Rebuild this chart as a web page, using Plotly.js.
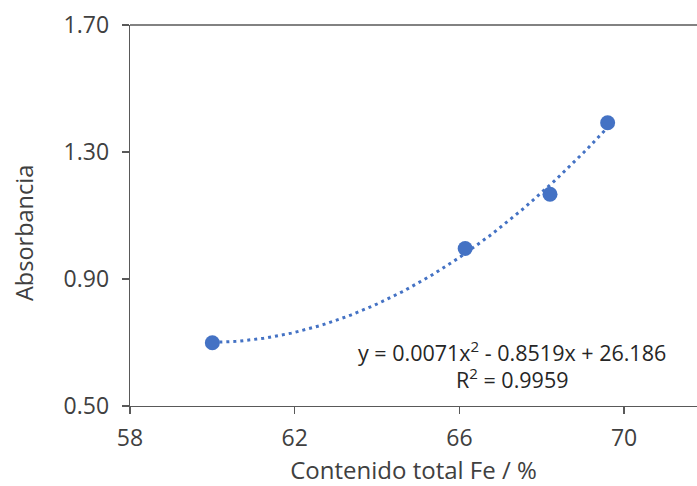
<!DOCTYPE html>
<html>
<head>
<meta charset="utf-8">
<script src="https://cdn.plot.ly/plotly-3.0.1.min.js"></script>
<style>html,body{margin:0;padding:0;background:#fff;}#chart{width:697px;height:486px;}</style>
</head>
<body>
<div id="chart"></div>
<script>
// Data
const feContent = [60.0, 66.14, 68.2, 69.6];
const absorbance = [0.699, 0.996, 1.167, 1.392];
const yTickVals = [0.50, 0.90, 1.30, 1.70];
const xTickVals = [58, 62, 66, 70];
const xTitle = 'Contenido total Fe / %';
const yTitle = 'Absorbancia';
const equationText = "y = 0.0071x<sup>2</sup> - 0.8519x + 26.186";
const r2Text = "R<sup>2</sup> = 0.9959";

// Quadratic least-squares trendline computed from the data (as Excel does)
function quadFit(xs, ys) {
  let n = xs.length, S = [0,0,0,0,0], T = [0,0,0];
  for (let i = 0; i < n; i++) {
    let p = 1;
    for (let k = 0; k < 5; k++) { S[k] += p; if (k < 3) T[k] += p * ys[i]; p *= xs[i]; }
  }
  const A = [[S[0],S[1],S[2],T[0]],[S[1],S[2],S[3],T[1]],[S[2],S[3],S[4],T[2]]];
  for (let c = 0; c < 3; c++) {
    for (let r = c + 1; r < 3; r++) {
      const f = A[r][c] / A[c][c];
      for (let k = c; k < 4; k++) A[r][k] -= f * A[c][k];
    }
  }
  const coef = [0,0,0];
  for (let r = 2; r >= 0; r--) {
    let s = A[r][3];
    for (let k = r + 1; k < 3; k++) s -= A[r][k] * coef[k];
    coef[r] = s / A[r][r];
  }
  return coef; // c0 + c1 x + c2 x^2
}
const cf = quadFit(feContent, absorbance);
const xMin = Math.min(...feContent), xMax = Math.max(...feContent);
const trendX = [], trendY = [];
for (let i = 0; i <= 100; i++) {
  const x = xMin + (xMax - xMin) * i / 100;
  trendX.push(x);
  trendY.push(cf[0] + cf[1] * x + cf[2] * x * x);
}

const blue = '#4472C4';
const txt = '#404040';
const fontFam = '"Open Sans", "Noto Sans", sans-serif';

const traces = [
  {x: trendX, y: trendY, mode: 'lines', type: 'scatter',
   line: {color: blue, width: 3, dash: '3px,4px'}, hoverinfo: 'skip', showlegend: false},
  {x: feContent, y: absorbance, mode: 'markers', type: 'scatter',
   marker: {color: blue, size: 15}, showlegend: false}
];

const layout = {
  width: 697, height: 486,
  margin: {l: 130, r: 0, t: 25, b: 80},
  paper_bgcolor: '#fff', plot_bgcolor: '#fff',
  font: {family: fontFam, size: 23, color: txt},
  showlegend: false,
  xaxis: {
    range: [58, 71.77], tickvals: xTickVals, ticktext: xTickVals.map(String),
    showgrid: false, zeroline: false, showline: true, linecolor: '#595959', linewidth: 1.3,
    ticks: 'outside', ticklen: 7, tickcolor: '#595959', tickwidth: 1.3,
    ticklabelstandoff: 4,
    tickfont: {family: fontFam, size: 23, color: txt},
    title: {text: xTitle, font: {family: fontFam, size: 24, color: txt}, standoff: 6}
  },
  yaxis: {
    range: [0.5, 1.7], tickvals: yTickVals, ticktext: yTickVals.map(v => v.toFixed(2)),
    showgrid: false, zeroline: false, showline: true, linecolor: '#595959', linewidth: 1.3,
    ticks: 'outside', ticklen: 7, tickcolor: '#595959', tickwidth: 1.3,
    ticklabelstandoff: 8,
    tickfont: {family: fontFam, size: 23, color: txt}
  },
  shapes: [
    {type: 'line', xref: 'paper', yref: 'paper', x0: 0, x1: 1, y0: 1, y1: 1,
     line: {color: '#595959', width: 1.3}}
  ],
  annotations: [
    {x: -0.187, y: 0.454, xref: 'paper', yref: 'paper', text: yTitle, textangle: -90,
     showarrow: false, xanchor: 'center', yanchor: 'middle',
     font: {family: fontFam, size: 23.5, color: txt}},
    {x: 67.28, y: 0.672, xref: 'x', yref: 'y', text: equationText, showarrow: false,
     font: {family: fontFam, size: 21.5, color: '#262626'}},
    {x: 67.28, y: 0.587, xref: 'x', yref: 'y', text: r2Text, showarrow: false,
     font: {family: fontFam, size: 21.5, color: '#262626'}}
  ]
};

Plotly.newPlot('chart', traces, layout, {displayModeBar: false, staticPlot: true});
</script>
</body>
</html>
